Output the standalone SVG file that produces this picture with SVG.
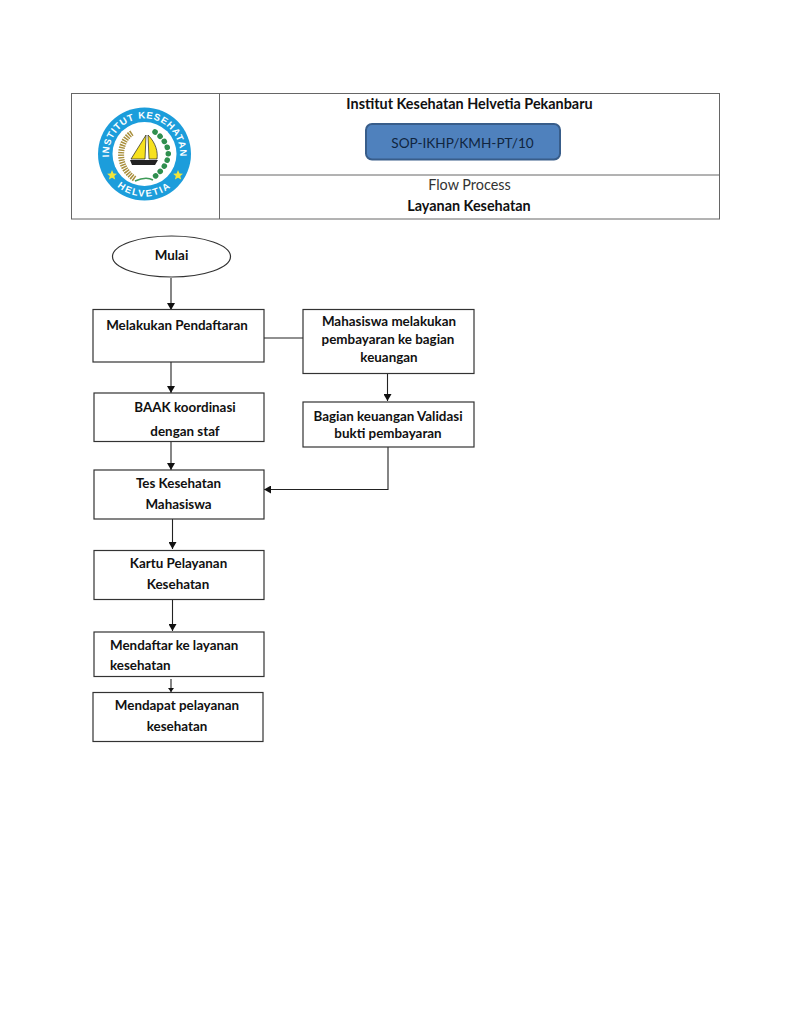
<svg xmlns="http://www.w3.org/2000/svg" width="791" height="1024" viewBox="0 0 791 1024">
<style>
text{font-family:"Lato","Open Sans","Liberation Sans",sans-serif;fill:#111;text-anchor:middle}
.b{font-size:13.400px;font-weight:700}
.h{font-size:14.400px}
.l{text-anchor:start}
.n{fill:#fff;stroke:#333;stroke-width:1.2}
.c{fill:none;stroke:#222;stroke-width:1.1}
.t{fill:none;stroke:#666;stroke-width:1}
.lg{font-size:9.500px;font-weight:700;fill:#fff;font-family:"Liberation Sans",sans-serif}
</style>
<defs>
<marker id="a" markerUnits="userSpaceOnUse" markerWidth="8" markerHeight="8" refX="7" refY="4" orient="auto"><path d="M0 0L7 4L0 8Z" fill="#111"/></marker>
<marker id="s" markerUnits="userSpaceOnUse" markerWidth="6" markerHeight="6" refX="4" refY="3" orient="auto"><path d="M0 0L4 3L0 6Z" fill="#111"/></marker>
<path id="top" d="M144.500 189.500A35.500 35.500 0 0 1 144.500 118.500A35.500 35.500 0 0 1 144.500 189.500"/>
<path id="bot" d="M144.500 111.500A42.500 42.500 0 0 0 144.500 196.500A42.500 42.500 0 0 0 144.500 111.500"/>
</defs>
<rect width="791" height="1024" fill="#fff"/>
<g id="header-table">
<rect class="t" x="71.500" y="93.500" width="648" height="125.500"/>
<path class="t" d="M219.500 93.500V219M219.500 175H719.500"/>
<text class="h" x="469.500" y="108.500" font-weight="700">Institut Kesehatan Helvetia Pekanbaru</text>
<text class="h" x="469.500" y="189.500" style="fill:#333">Flow Process</text>
<text class="h" x="469" y="211" font-weight="700">Layanan Kesehatan</text>
</g>
<g id="logo">
<circle cx="144.500" cy="154" r="46.500" fill="#1c9ddb"/>
<circle cx="144.500" cy="154" r="32" fill="#fff"/>
<text class="lg" letter-spacing="0.800"><textPath href="#top" startOffset="50%">INSTITUT KESEHATAN</textPath></text>
<text class="lg" letter-spacing="1.600"><textPath href="#bot" startOffset="50%">HELVETIA</textPath></text>
<path d="M111 174l1.500 3.500 3.500.3-2.700 2.300.9 3.500-3.200-1.900-3.100 1.900.9-3.500-2.700-2.300 3.500-.3z" fill="#f2e53a" transform="translate(1 -4)"/>
<path d="M178 174l1.500 3.500 3.500.3-2.700 2.300.9 3.500-3.200-1.900-3.100 1.900.9-3.500-2.700-2.300 3.500-.3z" fill="#f2e53a" transform="translate(0 -4)"/>
<path d="M132 133C119 141 115 166 135 179" fill="none" stroke="#a98f3c" stroke-width="6" stroke-dasharray="1.500 1"/>
<path d="M155 132C170 143 176 160 153 178" fill="none" stroke="#2f8f4e" stroke-width="5.500" stroke-linecap="round" stroke-dasharray="0.100 6.500"/>
<path d="M135 181Q146 176 153 180" fill="none" stroke="#3e9a57" stroke-width="1.500"/>
<path d="M146 135L131 159H145ZM148 135C156 143 158 152 157 159H149Z" fill="#f7e11d" stroke="#222" stroke-width=".7"/>
<path d="M130 160H158L155 165H132Z" fill="#222"/>
</g>
<g id="sop">
<rect x="366" y="124" width="194" height="35.500" rx="6" fill="#4f81bd" stroke="#385d8a" stroke-width="2"/>
<text x="462.500" y="147.500" style="font-size:13.600px;fill:#10253f">SOP-IKHP/KMH-PT/10</text>
</g>
<g id="connectors">
<path class="c" marker-end="url(#a)" d="M171 278V310"/>
<path class="c" marker-end="url(#a)" d="M171 362V393"/>
<path class="c" marker-end="url(#a)" d="M171 442V470"/>
<path class="c" d="M264 338H303"/>
<path class="c" marker-end="url(#a)" d="M387.500 374V401"/>
<path class="c" marker-end="url(#a)" d="M388 447V489.500H264"/>
<path class="c" marker-end="url(#a)" d="M172.500 519V549"/>
<path class="c" marker-end="url(#a)" d="M172.500 600V631"/>
<path class="c" marker-end="url(#s)" d="M171 679V692"/>
</g>
<g id="mulai"><ellipse class="n" cx="171.500" cy="256.500" rx="59" ry="20.500"/><text class="b" x="171.500" y="260">Mulai</text></g>
<g id="daftar"><rect class="n" x="93" y="309.500" width="171" height="52.500"/><text class="b" x="177" y="330">Melakukan Pendaftaran</text></g>
<g id="bayar"><rect class="n" x="303" y="309.500" width="171" height="64"/><text class="b" x="389" y="326">Mahasiswa melakukan</text><text class="b" x="388" y="344">pembayaran ke bagian</text><text class="b" x="389" y="362">keuangan</text></g>
<g id="baak"><rect class="n" x="94" y="393" width="170" height="48.500"/><text class="b" x="185" y="412">BAAK koordinasi</text><text class="b" x="185" y="436">dengan staf</text></g>
<g id="validasi"><rect class="n" x="303" y="402" width="171" height="45"/><text class="b" x="388" y="421">Bagian keuangan Validasi</text><text class="b" x="388" y="438">bukti pembayaran</text></g>
<g id="tes"><rect class="n" x="94" y="470" width="170" height="49"/><text class="b" x="178.500" y="488">Tes Kesehatan</text><text class="b" x="178.500" y="509">Mahasiswa</text></g>
<g id="kartu"><rect class="n" x="94" y="550.500" width="170" height="49"/><text class="b" x="178.500" y="568">Kartu Pelayanan</text><text class="b" x="178" y="589">Kesehatan</text></g>
<g id="mendaftar"><rect class="n" x="94" y="632" width="170" height="44.500"/><text class="b l" x="110" y="650">Mendaftar ke layanan</text><text class="b l" x="110" y="670">kesehatan</text></g>
<g id="mendapat"><rect class="n" x="93" y="692.500" width="170" height="49"/><text class="b" x="177" y="710">Mendapat pelayanan</text><text class="b" x="177" y="731">kesehatan</text></g>
</svg>
